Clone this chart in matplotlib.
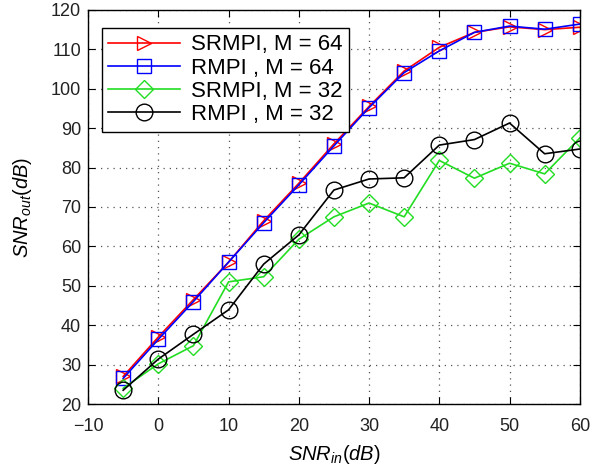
import matplotlib
matplotlib.use("Agg")
import matplotlib.pyplot as plt

snr_in = [-5, 0, 5, 10, 15, 20, 25, 30, 35, 40, 45, 50, 55, 60]
srmpi_64 = [27.0, 37.0, 46.5, 56.0, 66.5, 76.0, 86.0, 95.5, 104.5, 110.5, 114.3, 115.7, 115.0, 115.6]
rmpi_64 = [26.5, 36.4, 46.0, 56.0, 66.0, 75.6, 85.5, 95.2, 104.1, 109.6, 114.3, 115.9, 115.1, 116.4]
srmpi_32 = [24.0, 30.2, 34.8, 51.0, 52.3, 61.8, 67.5, 71.0, 67.5, 81.8, 77.3, 81.1, 78.4, 87.5]
rmpi_32 = [23.5, 31.4, 37.7, 43.9, 55.5, 62.9, 74.3, 77.1, 77.4, 85.7, 87.1, 91.3, 83.5, 84.7]

labels = ["SRMPI, M = 64", "RMPI , M = 64", "SRMPI, M = 32", "RMPI , M = 32"]
xticks = [-10, 0, 10, 20, 30, 40, 50, 60]
yticks = [20, 30, 40, 50, 60, 70, 80, 90, 100, 110, 120]

plt.rcParams['font.family'] = ['Liberation Sans', 'DejaVu Sans']
plt.rcParams['mathtext.fontset'] = 'custom'
plt.rcParams['mathtext.it'] = 'Liberation Sans:italic'
plt.rcParams['mathtext.rm'] = 'Liberation Sans'

fig = plt.figure(figsize=(5.91, 4.72), dpi=100)
ax = fig.add_axes([0.149, 0.144, 0.832, 0.835])

ms = 10.5
ax.plot(snr_in, srmpi_64, color='#ff0000', marker='>', mfc='none', ms=ms, lw=1.2, label=labels[0])
ax.plot(snr_in, rmpi_64, color='#0000ff', marker='s', mfc='none', ms=ms, lw=1.2, label=labels[1])
ax.plot(snr_in, srmpi_32, color='#22dd22', marker='D', mfc='none', ms=ms * 0.85, lw=1.2, label=labels[2])
ax.plot(snr_in, rmpi_32, color='black', marker='o', mfc='none', ms=ms + 1.5, lw=1.2, label=labels[3])

ax.set_xlim(-10, 60)
ax.set_ylim(20, 120)
ax.set_xticks(xticks)
ax.set_yticks(yticks)
ax.tick_params(direction='in', top=True, right=True, labelsize=13, length=5,
               labelcolor='#222222')
ax.tick_params(axis='x', pad=10)
ax.tick_params(axis='y', pad=5)
ax.grid(True, linestyle=(0, (1, 4)), color='#555555', linewidth=0.9)
for s in ax.spines.values():
    s.set_linewidth(1.0)

ax.set_xlabel(r'$SNR_{in}(dB)$', fontsize=14.5, labelpad=6)
ax.set_ylabel(r'$SNR_{out}(dB)$', fontsize=14.5, labelpad=12)

leg = ax.legend(loc='upper left', bbox_to_anchor=(0.028, 0.955), fontsize=16, fancybox=False,
                framealpha=1, edgecolor='black', handlelength=3.2, borderpad=0.3,
                labelspacing=0.1, handletextpad=0.5, borderaxespad=0)
leg.get_frame().set_linewidth(1.0)

fig.savefig('out.png', dpi=100)
